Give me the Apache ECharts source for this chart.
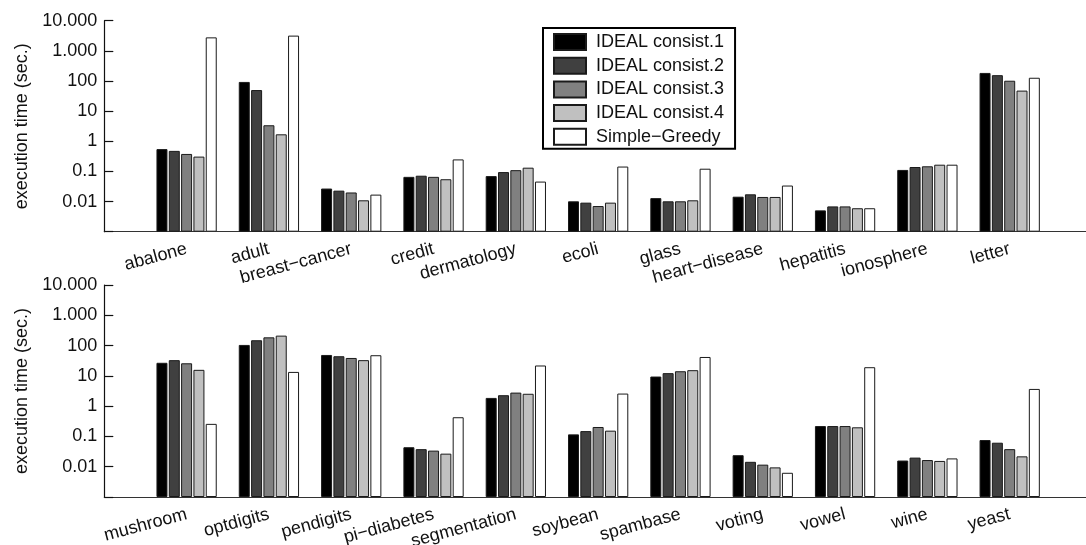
<!DOCTYPE html>
<html>
<head>
<meta charset="utf-8">
<script src="https://cdn.jsdelivr.net/npm/echarts@6/dist/echarts.min.js"></script>
<style>
  html, body { margin: 0; padding: 0; background: #fff; }
  #main { width: 1086px; height: 545px; }
</style>
</head>
<body>
<div id="main"></div>
<script>
// datasets, upper and lower panel
var topSets = ['abalone', 'adult', 'breast\u2212cancer', 'credit', 'dermatology', 'ecoli',
    'glass', 'heart\u2212disease', 'hepatitis', 'ionosphere', 'letter'];
var bottomSets = ['mushroom', 'optdigits', 'pendigits', 'pi\u2212diabetes', 'segmentation',
    'soybean', 'spambase', 'voting', 'vowel', 'wine', 'yeast'];

var methods = ['IDEAL consist.1', 'IDEAL consist.2', 'IDEAL consist.3', 'IDEAL consist.4', 'Simple\u2212Greedy'];

// execution time (sec.), one array per method
var topConsist1 = [0.55, 93, 0.027, 0.066, 0.070, 0.0102, 0.013, 0.0145, 0.0051, 0.112, 185];
var topConsist2 = [0.48, 50, 0.023, 0.072, 0.095, 0.0092, 0.0102, 0.0174, 0.0069, 0.14, 156];
var topConsist3 = [0.38, 3.4, 0.020, 0.066, 0.11, 0.0071, 0.0102, 0.0142, 0.0069, 0.148, 102];
var topConsist4 = [0.31, 1.7, 0.011, 0.055, 0.133, 0.0092, 0.011, 0.0142, 0.0060, 0.167, 48];
var topGreedy = [2800, 3200, 0.017, 0.25, 0.046, 0.145, 0.123, 0.034, 0.0060, 0.167, 128];

var bottomConsist1 = [27, 105, 49, 0.044, 1.87, 0.117, 9.5, 0.024, 0.22, 0.016, 0.076];
var bottomConsist2 = [33, 150, 44.5, 0.038, 2.3, 0.15, 12.3, 0.0145, 0.22, 0.020, 0.062];
var bottomConsist3 = [26, 187, 39, 0.034, 2.8, 0.205, 14.2, 0.0117, 0.22, 0.0166, 0.038];
var bottomConsist4 = [15.8, 213, 33, 0.027, 2.56, 0.155, 15.4, 0.0095, 0.20, 0.0155, 0.022];
var bottomGreedy = [0.26, 13.5, 48, 0.43, 22, 2.6, 42, 0.0063, 19.3, 0.0188, 3.7];

// labels of the log ticks, from 0.001 up to 10000
var yTickLabels = ['', '0.01', '0.1', '1', '10', '100', '1.000', '10.000'];

var fills = ['#000000', '#404040', '#808080', '#c0c0c0', '#ffffff'];
var font = '"Liberation Sans", Arial, sans-serif';

var chart = echarts.init(document.getElementById('main'));

// pad one empty slot on each side, bars sit at 1..11 of 0..12
function pad(arr) {
    return [null].concat(arr, [null]);
}

function xAxisFor(names, idx, margin) {
    return {
        type: 'category',
        gridIndex: idx,
        data: [''].concat(names, ['']),
        boundaryGap: false,
        axisLine: { lineStyle: { color: '#333', width: 1.2 } },
        axisTick: { show: false },
        axisLabel: {
            interval: 0,
            rotate: 15,
            margin: margin,
            color: '#111',
            fontFamily: font,
            fontSize: 18
        }
    };
}

function yAxisFor(idx) {
    return {
        type: 'log',
        gridIndex: idx,
        logBase: 10,
        min: 0.001,
        max: 10000,
        startValue: 0.001,
        name: 'execution time (sec.)',
        nameLocation: 'middle',
        nameGap: 71,
        nameTextStyle: { color: '#111', fontFamily: font, fontSize: 18 },
        splitLine: { show: false },
        axisLine: { show: true, lineStyle: { color: '#111', width: 1.2 } },
        axisTick: { show: true, inside: true, length: 9, lineStyle: { color: '#111', width: 1.2 } },
        axisLabel: {
            margin: 7,
            color: '#111',
            fontFamily: font,
            fontSize: 18,
            formatter: function (v) {
                var e = Math.round(Math.log10(v));
                return yTickLabels[e + 3] || '';
            }
        }
    };
}

var topData = [topConsist1, topConsist2, topConsist3, topConsist4, topGreedy];
var bottomData = [bottomConsist1, bottomConsist2, bottomConsist3, bottomConsist4, bottomGreedy];

var series = [];
[topData, bottomData].forEach(function (panel, g) {
    panel.forEach(function (vals, i) {
        series.push({
            name: methods[i],
            type: 'bar',
            xAxisIndex: g,
            yAxisIndex: g,
            data: pad(vals),
            barWidth: 11,
            barGap: '12%',
            itemStyle: { color: fills[i], borderColor: '#1a1a1a', borderWidth: 1 },
            emphasis: { disabled: true },
            animation: false
        });
    });
});

var option = {
    backgroundColor: '#fff',
    animation: false,
    textStyle: { fontFamily: font },
    legend: {
        data: methods,
        orient: 'vertical',
        left: 543,
        top: 28,
        padding: [5, 11, 3, 10],
        itemWidth: 32,
        itemHeight: 16,
        itemGap: 5.7,
        backgroundColor: '#fff',
        borderColor: '#000',
        borderWidth: 2,
        borderRadius: 0,
        icon: 'rect',
        textStyle: { color: '#111', fontFamily: font, fontSize: 18, lineHeight: 16, padding: [0, 0, 0, 5] },
        selectedMode: false
    },
    grid: [
        { left: 104.3, right: -6, top: 20.7, height: 211, containLabel: false, outerBoundsMode: 'none' },
        { left: 104.3, right: -6, top: 285, height: 212, containLabel: false, outerBoundsMode: 'none' }
    ],
    xAxis: [xAxisFor(topSets, 0, 17), xAxisFor(bottomSets, 1, 17)],
    yAxis: [yAxisFor(0), yAxisFor(1)],
    series: series
};

chart.setOption(option);
</script>
</body>
</html>
